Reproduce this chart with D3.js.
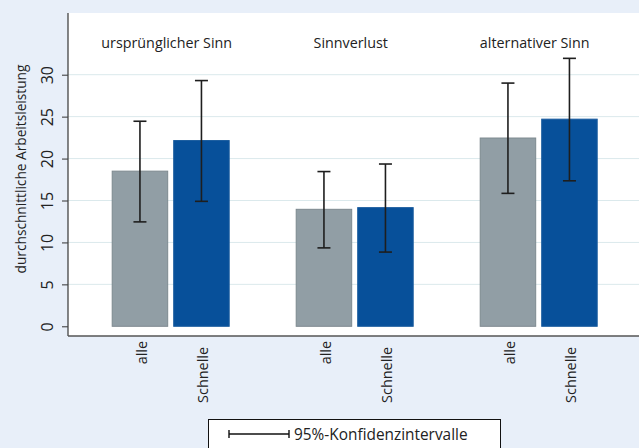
<!DOCTYPE html>
<html><head><meta charset="utf-8">
<script src="https://cdn.jsdelivr.net/npm/d3@7"></script>
<style>html,body{margin:0;padding:0;background:#e8eff9;} svg{display:block;} text{font-family:"Open Sans",sans-serif;fill:#222;}</style>
</head><body>
<svg id="c" width="639" height="448"></svg>
<script>
const groups = ["ursprünglicher Sinn", "Sinnverlust", "alternativer Sinn"];
const series = ["alle", "Schnelle"];
const means = {
  "alle":     [18.5, 13.95, 22.45],
  "Schnelle": [22.15, 14.15, 24.7]
};
const ciLow = {
  "alle":     [12.45, 9.35, 15.85],
  "Schnelle": [14.9, 8.85, 17.35]
};
const ciHigh = {
  "alle":     [24.45, 18.45, 29.0],
  "Schnelle": [29.3, 19.35, 31.95]
};
const yTicks = [0, 5, 10, 15, 20, 25, 30];
const yLabel = "durchschnittliche Arbeitsleistung";
const legendLabel = "95%-Konfidenzintervalle";

const colors = {"alle": "#919ea5", "Schnelle": "#07509a"};
const strokes = {"alle": "#7d898f", "Schnelle": "#1b5c9e"};
const labelShift = {"alle": 0, "Schnelle": 6};

const svg = d3.select("#c");
const W = 639, H = 448;
const plot = {left: 68, top: 13, right: 639, bottom: 336};

svg.append("rect").attr("width", W).attr("height", H).attr("fill", "#e8eff9");
svg.append("rect").attr("x", plot.left).attr("y", plot.top)
  .attr("width", plot.right - plot.left).attr("height", plot.bottom - plot.top).attr("fill", "#fff");

const y = d3.scaleLinear().domain([0, 30]).range([326.3, 74.7]);
const x0 = d3.scaleBand().domain(groups).range([78.7, 630.7]).paddingInner(0);
const inner = 117;
const x1 = d3.scaleBand().domain(series)
  .range([(x0.bandwidth() - inner) / 2, (x0.bandwidth() + inner) / 2]).paddingInner(0.0976);

// gridlines
svg.append("g").selectAll("line").data(yTicks.filter(d => d > 0)).join("line")
  .attr("x1", plot.left).attr("x2", plot.right)
  .attr("y1", d => y(d)).attr("y2", d => y(d))
  .attr("stroke", "#dbe9ec").attr("stroke-width", 1);

// bars
const rows = [];
groups.forEach((g, gi) => series.forEach(s => rows.push({g, s, v: means[s][gi], lo: ciLow[s][gi], hi: ciHigh[s][gi]})));

svg.append("g").selectAll("rect").data(rows).join("rect")
  .attr("x", d => x0(d.g) + x1(d.s))
  .attr("y", d => y(d.v))
  .attr("width", x1.bandwidth())
  .attr("height", d => y(0) - y(d.v))
  .attr("fill", d => colors[d.s])
  .attr("stroke", d => strokes[d.s]).attr("stroke-width", 1);

// error bars
const eb = svg.append("g").attr("stroke", "#1e1e1e").attr("stroke-width", 1.6);
rows.forEach(d => {
  const cx = x0(d.g) + x1(d.s) + x1.bandwidth() / 2;
  eb.append("line").attr("x1", cx).attr("x2", cx).attr("y1", y(d.lo)).attr("y2", y(d.hi));
  eb.append("line").attr("x1", cx - 6.5).attr("x2", cx + 6.5).attr("y1", y(d.lo)).attr("y2", y(d.lo));
  eb.append("line").attr("x1", cx - 6.5).attr("x2", cx + 6.5).attr("y1", y(d.hi)).attr("y2", y(d.hi));
});

// group titles
svg.append("g").selectAll("text").data(groups).join("text")
  .attr("x", d => x0(d) + x0.bandwidth() / 2 - 4)
  .attr("y", 48)
  .attr("text-anchor", "middle").attr("font-size", 14.3)
  .text(d => d);

// y axis
const yAxis = d3.axisLeft(y).tickValues(yTicks).tickSize(6).tickPadding(6).tickFormat(d3.format("d"));
const ga = svg.append("g").attr("transform", `translate(${plot.left},0)`).call(yAxis);
ga.select(".domain").remove();
ga.selectAll(".tick line").attr("stroke", "#333");
ga.selectAll(".tick text")
  .attr("font-family", "'Open Sans',sans-serif").attr("font-size", 16).attr("fill", "#222")
  .attr("transform", "rotate(-90)").attr("x", 0).attr("y", -15)
  .attr("text-anchor", "middle").attr("dy", 0);

// axis lines
svg.append("line").attr("x1", plot.left).attr("x2", plot.left).attr("y1", plot.top).attr("y2", plot.bottom)
  .attr("stroke", "#444").attr("stroke-width", 1.3);
svg.append("line").attr("x1", plot.left).attr("x2", plot.right).attr("y1", plot.bottom).attr("y2", plot.bottom)
  .attr("stroke", "#555").attr("stroke-width", 1.3);

// y label
svg.append("text").attr("transform", `translate(26,169) rotate(-90)`)
  .attr("text-anchor", "middle").attr("font-size", 13.7).text(yLabel);

// category labels
svg.append("g").selectAll("text").data(rows).join("text")
  .attr("transform", d => `translate(${x0(d.g) + x1(d.s) + x1.bandwidth() / 2 + 7},${341 + labelShift[d.s]}) rotate(-90)`)
  .attr("text-anchor", "end").attr("font-size", 14.4).text(d => d.s);

// legend
const lg = svg.append("g");
lg.append("rect").attr("x", 208.5).attr("y", 419.5).attr("width", 292).attr("height", 40)
  .attr("fill", "#fff").attr("stroke", "#111").attr("stroke-width", 1);
lg.append("line").attr("x1", 229).attr("x2", 289).attr("y1", 434).attr("y2", 434).attr("stroke", "#111").attr("stroke-width", 1.4);
lg.append("line").attr("x1", 229).attr("x2", 229).attr("y1", 430).attr("y2", 438).attr("stroke", "#111").attr("stroke-width", 1.4);
lg.append("line").attr("x1", 289).attr("x2", 289).attr("y1", 430).attr("y2", 438).attr("stroke", "#111").attr("stroke-width", 1.4);
lg.append("text").attr("x", 294).attr("y", 440).attr("font-size", 15.4).text(legendLabel);
</script>
</body></html>
